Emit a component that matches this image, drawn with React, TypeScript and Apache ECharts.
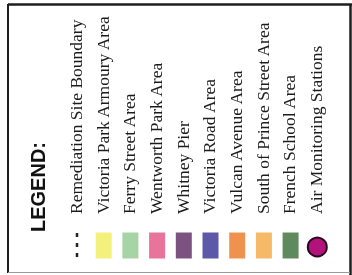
import React, { useEffect, useRef } from "react";
import * as echarts from "echarts";

const title = "LEGEND:";
const labels = [
  "Remediation Site Boundary",
  "Victoria Park Armoury Area",
  "Ferry Street Area",
  "Wentworth Park Area",
  "Whitney Pier",
  "Victoria Road Area",
  "Vulcan Avenue Area",
  "South of Prince Street Area",
  "French School Area",
  "Air Monitoring Stations",
];
const symbols = ["dash", "rect", "rect", "rect", "rect", "rect", "rect", "rect", "rect", "circle"];
const colors = [
  "#222222",
  "#f4f07c",
  "#a6d4a6",
  "#e8739b",
  "#7c5380",
  "#5d59a8",
  "#f0924f",
  "#f5b968",
  "#5f8a5d",
  "#b3127b",
];

export default function App() {
  const ref = useRef<HTMLDivElement>(null);
  useEffect(() => {
    if (!ref.current) return;
    const chart = echarts.init(ref.current, null, { renderer: "svg" });
    const col0 = 77;
    const step = 26.7;
    const els: any[] = [];
    // frame
    els.push({ type: "rect", shape: { x: 0, y: 0, width: 352, height: 275 }, style: { fill: "#ffffff" } });
    els.push({ type: "line", shape: { x1: 8, y1: 4.5, x2: 352, y2: 4.5 }, style: { stroke: "#1e1e1e", lineWidth: 2.5 } });
    els.push({ type: "line", shape: { x1: 8, y1: 4, x2: 8, y2: 273 }, style: { stroke: "#1e1e1e", lineWidth: 2 } });
    els.push({ type: "line", shape: { x1: 350.5, y1: 4, x2: 350.5, y2: 275 }, style: { stroke: "#1e1e1e", lineWidth: 2.5 } });
    els.push({ type: "line", shape: { x1: 8, y1: 272.5, x2: 350, y2: 272.5 }, style: { stroke: "#9a9a9a", lineWidth: 1 } });
    els.push({
      type: "text",
      x: 38,
      y: 232,
      rotation: Math.PI / 2,
      style: {
        text: title,
        font: "bold 20px 'Liberation Sans', Arial, sans-serif",
        fill: "#111111",
        textAlign: "left",
        textVerticalAlign: "middle",
      },
    });
    labels.forEach((lab, i) => {
      const cx = col0 + i * step;
      els.push({
        type: "text",
        x: cx - 1.2,
        y: 214,
        rotation: Math.PI / 2,
        style: {
          text: lab,
          font: "17.5px 'Liberation Serif', 'Times New Roman', serif",
          fill: "#1c1c1c",
          textAlign: "left",
          textVerticalAlign: "middle",
        },
      });
      const s = symbols[i];
      if (s === "rect") {
        els.push({
          type: "rect",
          shape: { x: cx - 8, y: 232.5, width: 16, height: 26 },
          style: { fill: colors[i] },
        });
      } else if (s === "circle") {
        els.push({
          type: "circle",
          shape: { cx: cx, cy: 247, r: 9.5 },
          style: { fill: colors[i], stroke: "#2a0820", lineWidth: 2 },
        });
      } else {
        els.push({
          type: "line",
          shape: { x1: cx, y1: 233, x2: cx, y2: 258 },
          style: { stroke: colors[i], lineWidth: 2.5, lineDash: [4, 6] },
        });
      }
    });
    chart.setOption({ animation: false, graphic: { elements: els } });
    return () => chart.dispose();
  }, []);
  return <div ref={ref} style={{ position: "fixed", left: 0, top: 0, width: 352, height: 275 }} />;
}
